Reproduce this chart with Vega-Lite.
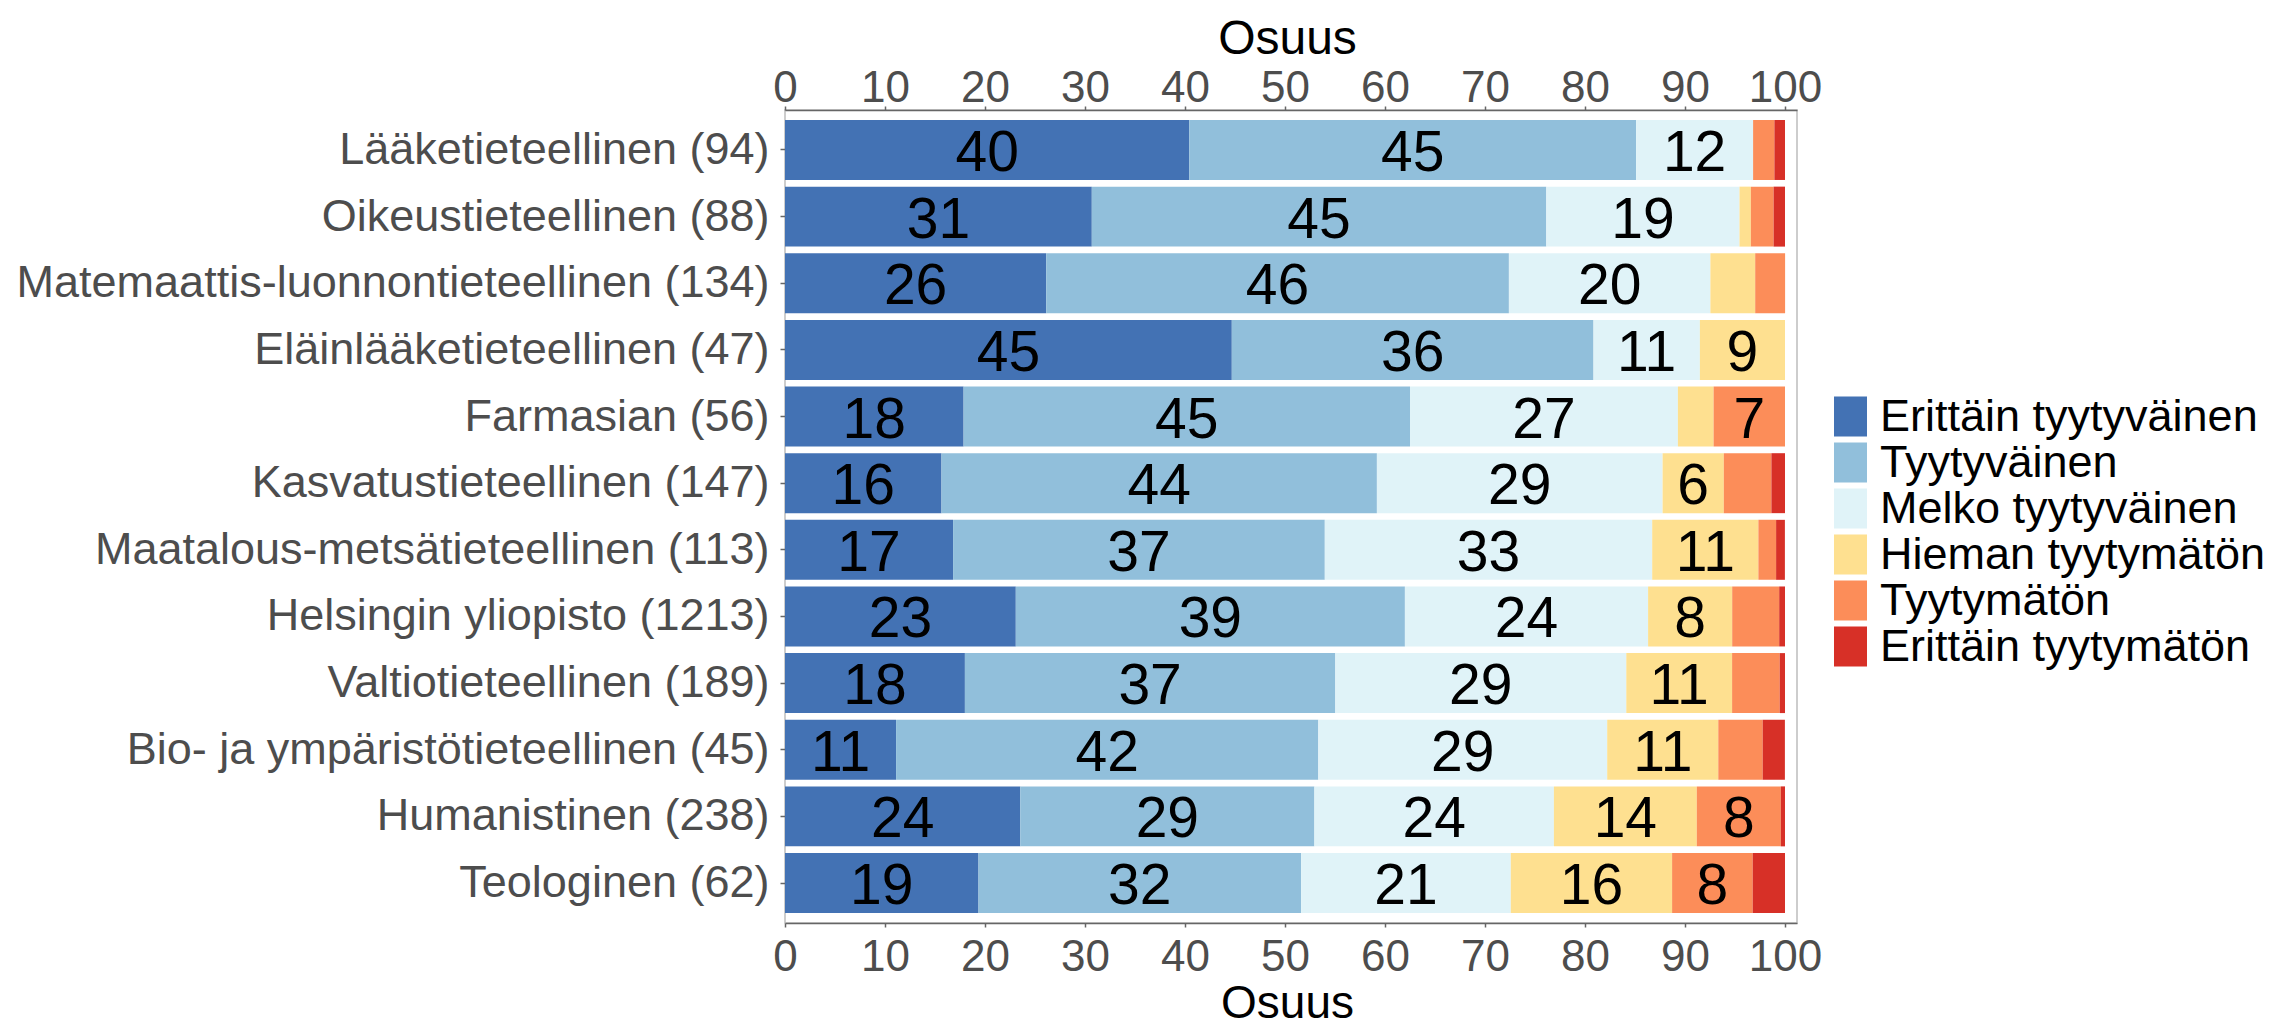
{
  "$schema": "https://vega.github.io/schema/vega-lite/v6.json",
  "width": 1012,
  "height": 813,
  "autosize": "none",
  "padding": {"left": 785, "top": 110, "right": 474, "bottom": 103},
  "background": "white",
  "config": {
    "font": "Liberation Sans",
    "view": {"stroke": "#bdbdbd", "strokeWidth": 1.5}
  },
  "data": {
    "values": [
      {"faculty": "Lääketieteellinen (94)", "category": "Erittäin tyytyväinen", "level": 1, "pct": 40.43},
      {"faculty": "Lääketieteellinen (94)", "category": "Tyytyväinen", "level": 2, "pct": 44.68},
      {"faculty": "Lääketieteellinen (94)", "category": "Melko tyytyväinen", "level": 3, "pct": 11.70},
      {"faculty": "Lääketieteellinen (94)", "category": "Tyytymätön", "level": 5, "pct": 2.13},
      {"faculty": "Lääketieteellinen (94)", "category": "Erittäin tyytymätön", "level": 6, "pct": 1.06},

      {"faculty": "Oikeustieteellinen (88)", "category": "Erittäin tyytyväinen", "level": 1, "pct": 30.68},
      {"faculty": "Oikeustieteellinen (88)", "category": "Tyytyväinen", "level": 2, "pct": 45.45},
      {"faculty": "Oikeustieteellinen (88)", "category": "Melko tyytyväinen", "level": 3, "pct": 19.32},
      {"faculty": "Oikeustieteellinen (88)", "category": "Hieman tyytymätön", "level": 4, "pct": 1.14},
      {"faculty": "Oikeustieteellinen (88)", "category": "Tyytymätön", "level": 5, "pct": 2.27},
      {"faculty": "Oikeustieteellinen (88)", "category": "Erittäin tyytymätön", "level": 6, "pct": 1.14},

      {"faculty": "Matemaattis-luonnontieteellinen (134)", "category": "Erittäin tyytyväinen", "level": 1, "pct": 26.12},
      {"faculty": "Matemaattis-luonnontieteellinen (134)", "category": "Tyytyväinen", "level": 2, "pct": 46.27},
      {"faculty": "Matemaattis-luonnontieteellinen (134)", "category": "Melko tyytyväinen", "level": 3, "pct": 20.15},
      {"faculty": "Matemaattis-luonnontieteellinen (134)", "category": "Hieman tyytymätön", "level": 4, "pct": 4.48},
      {"faculty": "Matemaattis-luonnontieteellinen (134)", "category": "Tyytymätön", "level": 5, "pct": 2.99},

      {"faculty": "Eläinlääketieteellinen (47)", "category": "Erittäin tyytyväinen", "level": 1, "pct": 44.68},
      {"faculty": "Eläinlääketieteellinen (47)", "category": "Tyytyväinen", "level": 2, "pct": 36.17},
      {"faculty": "Eläinlääketieteellinen (47)", "category": "Melko tyytyväinen", "level": 3, "pct": 10.64},
      {"faculty": "Eläinlääketieteellinen (47)", "category": "Hieman tyytymätön", "level": 4, "pct": 8.51},

      {"faculty": "Farmasian (56)", "category": "Erittäin tyytyväinen", "level": 1, "pct": 17.86},
      {"faculty": "Farmasian (56)", "category": "Tyytyväinen", "level": 2, "pct": 44.64},
      {"faculty": "Farmasian (56)", "category": "Melko tyytyväinen", "level": 3, "pct": 26.79},
      {"faculty": "Farmasian (56)", "category": "Hieman tyytymätön", "level": 4, "pct": 3.57},
      {"faculty": "Farmasian (56)", "category": "Tyytymätön", "level": 5, "pct": 7.14},

      {"faculty": "Kasvatustieteellinen (147)", "category": "Erittäin tyytyväinen", "level": 1, "pct": 15.65},
      {"faculty": "Kasvatustieteellinen (147)", "category": "Tyytyväinen", "level": 2, "pct": 43.54},
      {"faculty": "Kasvatustieteellinen (147)", "category": "Melko tyytyväinen", "level": 3, "pct": 28.57},
      {"faculty": "Kasvatustieteellinen (147)", "category": "Hieman tyytymätön", "level": 4, "pct": 6.12},
      {"faculty": "Kasvatustieteellinen (147)", "category": "Tyytymätön", "level": 5, "pct": 4.76},
      {"faculty": "Kasvatustieteellinen (147)", "category": "Erittäin tyytymätön", "level": 6, "pct": 1.36},

      {"faculty": "Maatalous-metsätieteellinen (113)", "category": "Erittäin tyytyväinen", "level": 1, "pct": 16.81},
      {"faculty": "Maatalous-metsätieteellinen (113)", "category": "Tyytyväinen", "level": 2, "pct": 37.17},
      {"faculty": "Maatalous-metsätieteellinen (113)", "category": "Melko tyytyväinen", "level": 3, "pct": 32.74},
      {"faculty": "Maatalous-metsätieteellinen (113)", "category": "Hieman tyytymätön", "level": 4, "pct": 10.62},
      {"faculty": "Maatalous-metsätieteellinen (113)", "category": "Tyytymätön", "level": 5, "pct": 1.77},
      {"faculty": "Maatalous-metsätieteellinen (113)", "category": "Erittäin tyytymätön", "level": 6, "pct": 0.88},

      {"faculty": "Helsingin yliopisto (1213)", "category": "Erittäin tyytyväinen", "level": 1, "pct": 23.08},
      {"faculty": "Helsingin yliopisto (1213)", "category": "Tyytyväinen", "level": 2, "pct": 38.91},
      {"faculty": "Helsingin yliopisto (1213)", "category": "Melko tyytyväinen", "level": 3, "pct": 24.32},
      {"faculty": "Helsingin yliopisto (1213)", "category": "Hieman tyytymätön", "level": 4, "pct": 8.41},
      {"faculty": "Helsingin yliopisto (1213)", "category": "Tyytymätön", "level": 5, "pct": 4.70},
      {"faculty": "Helsingin yliopisto (1213)", "category": "Erittäin tyytymätön", "level": 6, "pct": 0.58},

      {"faculty": "Valtiotieteellinen (189)", "category": "Erittäin tyytyväinen", "level": 1, "pct": 17.99},
      {"faculty": "Valtiotieteellinen (189)", "category": "Tyytyväinen", "level": 2, "pct": 37.04},
      {"faculty": "Valtiotieteellinen (189)", "category": "Melko tyytyväinen", "level": 3, "pct": 29.10},
      {"faculty": "Valtiotieteellinen (189)", "category": "Hieman tyytymätön", "level": 4, "pct": 10.58},
      {"faculty": "Valtiotieteellinen (189)", "category": "Tyytymätön", "level": 5, "pct": 4.76},
      {"faculty": "Valtiotieteellinen (189)", "category": "Erittäin tyytymätön", "level": 6, "pct": 0.53},

      {"faculty": "Bio- ja ympäristötieteellinen (45)", "category": "Erittäin tyytyväinen", "level": 1, "pct": 11.11},
      {"faculty": "Bio- ja ympäristötieteellinen (45)", "category": "Tyytyväinen", "level": 2, "pct": 42.22},
      {"faculty": "Bio- ja ympäristötieteellinen (45)", "category": "Melko tyytyväinen", "level": 3, "pct": 28.89},
      {"faculty": "Bio- ja ympäristötieteellinen (45)", "category": "Hieman tyytymätön", "level": 4, "pct": 11.11},
      {"faculty": "Bio- ja ympäristötieteellinen (45)", "category": "Tyytymätön", "level": 5, "pct": 4.44},
      {"faculty": "Bio- ja ympäristötieteellinen (45)", "category": "Erittäin tyytymätön", "level": 6, "pct": 2.22},

      {"faculty": "Humanistinen (238)", "category": "Erittäin tyytyväinen", "level": 1, "pct": 23.53},
      {"faculty": "Humanistinen (238)", "category": "Tyytyväinen", "level": 2, "pct": 29.41},
      {"faculty": "Humanistinen (238)", "category": "Melko tyytyväinen", "level": 3, "pct": 23.95},
      {"faculty": "Humanistinen (238)", "category": "Hieman tyytymätön", "level": 4, "pct": 14.29},
      {"faculty": "Humanistinen (238)", "category": "Tyytymätön", "level": 5, "pct": 8.40},
      {"faculty": "Humanistinen (238)", "category": "Erittäin tyytymätön", "level": 6, "pct": 0.42},

      {"faculty": "Teologinen (62)", "category": "Erittäin tyytyväinen", "level": 1, "pct": 19.35},
      {"faculty": "Teologinen (62)", "category": "Tyytyväinen", "level": 2, "pct": 32.26},
      {"faculty": "Teologinen (62)", "category": "Melko tyytyväinen", "level": 3, "pct": 20.97},
      {"faculty": "Teologinen (62)", "category": "Hieman tyytymätön", "level": 4, "pct": 16.13},
      {"faculty": "Teologinen (62)", "category": "Tyytymätön", "level": 5, "pct": 8.06},
      {"faculty": "Teologinen (62)", "category": "Erittäin tyytymätön", "level": 6, "pct": 3.23}
    ]
  },
  "encoding": {
    "y": {
      "field": "faculty",
      "type": "nominal",
      "sort": [
        "Lääketieteellinen (94)",
        "Oikeustieteellinen (88)",
        "Matemaattis-luonnontieteellinen (134)",
        "Eläinlääketieteellinen (47)",
        "Farmasian (56)",
        "Kasvatustieteellinen (147)",
        "Maatalous-metsätieteellinen (113)",
        "Helsingin yliopisto (1213)",
        "Valtiotieteellinen (189)",
        "Bio- ja ympäristötieteellinen (45)",
        "Humanistinen (238)",
        "Teologinen (62)"
      ],
      "scale": {"paddingInner": 0.1, "paddingOuter": 0.15},
      "axis": {
        "title": null,
        "domain": false,
        "labelFontSize": 45,
        "labelColor": "#4d4d4d",
        "labelLimit": 1000,
        "labelPadding": 11,
        "tickSize": 5,
        "tickColor": "#666666",
        "tickWidth": 1.5
      }
    }
  },
  "layer": [
    {
      "mark": {"type": "bar"},
      "encoding": {
        "x": {
          "field": "pct",
          "type": "quantitative",
          "stack": "zero",
          "scale": {"domain": [0, 101.2], "nice": false, "zero": true},
          "axis": {
            "orient": "bottom",
            "values": [0, 10, 20, 30, 40, 50, 60, 70, 80, 90, 100],
            "grid": false,
            "labelFlush": false,
            "labelOverlap": false,
            "labelFontSize": 44,
            "labelColor": "#4d4d4d",
            "labelPadding": 8,
            "tickSize": 4,
            "tickColor": "#666666",
            "tickWidth": 1.5,
            "domainColor": "#666666",
            "domainWidth": 1.5,
            "title": "Osuus",
            "titleFontSize": 46,
            "titleFontWeight": "normal",
            "titleColor": "#000000",
            "titleBaseline": "alphabetic",
            "titleAnchor": "middle",
            "titleX": 502,
            "titleY": 94
          }
        },
        "color": {
          "field": "category",
          "type": "nominal",
          "scale": {
            "domain": ["Erittäin tyytyväinen", "Tyytyväinen", "Melko tyytyväinen", "Hieman tyytymätön", "Tyytymätön", "Erittäin tyytymätön"],
            "range": ["#4372b4", "#91bfdb", "#e0f3f8", "#fee090", "#fc8d59", "#d73027"]
          },
          "legend": {
            "orient": "none",
            "legendX": 1043,
            "legendY": 284,
            "title": null,
            "labelFontSize": 45,
            "labelColor": "#000000",
            "labelLimit": 1000,
            "labelOffset": 7,
            "symbolType": "M-0.825,-1H0.825V1H-0.825Z",
            "symbolSize": 1600,
            "symbolStrokeWidth": 0,
            "symbolOpacity": 1,
            "rowPadding": -3
          }
        },
        "order": {"field": "level", "type": "quantitative"}
      }
    },
    {
      "mark": {"type": "text", "fontSize": 57, "color": "#000000", "baseline": "middle", "align": "center", "dy": 4},
      "encoding": {
        "x": {
          "field": "pct",
          "type": "quantitative",
          "stack": "zero",
          "bandPosition": 0.5,
          "axis": {
            "orient": "top",
            "values": [0, 10, 20, 30, 40, 50, 60, 70, 80, 90, 100],
            "grid": false,
            "labelFlush": false,
            "labelOverlap": false,
            "labelFontSize": 44,
            "labelColor": "#4d4d4d",
            "labelBaseline": "alphabetic",
            "labelPadding": 5,
            "tickSize": 4,
            "tickColor": "#666666",
            "tickWidth": 1.5,
            "domainColor": "#666666",
            "domainWidth": 1.5,
            "title": "Osuus",
            "titleFontSize": 48,
            "titleFontWeight": "normal",
            "titleColor": "#000000",
            "titleBaseline": "alphabetic",
            "titleAnchor": "middle",
            "titleX": 502,
            "titleY": -57
          }
        },
        "detail": {"field": "category"},
        "order": {"field": "level", "type": "quantitative"},
        "text": {
          "condition": {"test": "datum.pct >= 5", "field": "pct", "type": "quantitative", "format": ".0f"},
          "value": ""
        }
      }
    }
  ],
  "resolve": {"axis": {"x": "independent"}}
}
